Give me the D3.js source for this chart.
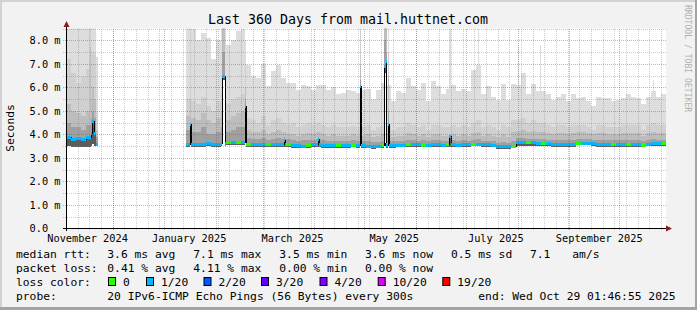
<!DOCTYPE html>
<html lang="en">
<head>
<meta charset="UTF-8">
<script src="https://cdn.jsdelivr.net/npm/d3@7"></script>
<style>
    body { margin: 0; background: #fff; }
    svg { display: block; font-family: "DejaVu Sans Mono", monospace; }
    text { white-space: pre; }
</style>
</head>
<body>
<div id="chart"></div>
<script>
// ---- data (3-day bins from the start of the 360 day window) ----
const spanDays = 360;
const binDays = 3;

// top of the smoke (slowest ping), in ms
const maxRtt = [
    8.6, 8.6, 8.6, 8.6, 8.6, 8.6, null, null, null, null,
    null, null, null, null, null, null, null, null, null, null,
    null, null, null, null, 8.6, 8.5, 8.0, 8.3, 8.1, 7.2,
    8.0, 8.5, 7.8, 8.0, 8.4, 8.5, 6.95, 6.5, 6.4, 7.0,
    6.05, 6.7, 6.95, 6.4, 6.2, 6.2, 5.9, 6.1, 6.05, 5.9,
    6.1, 6.1, 5.9, 6.0, 5.7, 5.75, 5.9, 5.85, 5.75, 5.9,
    5.95, 5.5, 5.9, 6.2, 6.1, 5.4, 5.85, 5.75, 6.4, 6.05,
    5.9, 6.2, 5.4, 6.25, 6.05, 5.7, 5.95, 6.1, 5.85, 5.95,
    5.85, 6.75, 6.95, 5.7, 6.05, 5.6, 5.45, 6.15, 5.45, 6.15,
    6.1, 6.6, 5.7, 6.15, 5.85, 5.85, 5.7, 5.45, 5.6, 5.7,
    5.4, 5.7, 5.55, 5.6, 5.4, 5.2, 5.6, 5.55, 5.55, 5.4,
    5.45, 5.55, 5.7, 5.6, 5.55, 5.3, 5.6, 5.85, 5.6, 5.7
];
// inner smoke levels, lighter to darker
const smokeQ2 = [
    7.2, 6.6, 6.2, 6.5, 6.8, 7.4, null, null, null, null,
    null, null, null, null, null, null, null, null, null, null,
    null, null, null, null, 5.5, 5.4, 5.3, 5.6, 5.2, 5.0,
    5.4, 5.8, 5.3, 5.5, 5.6, 5.7, 4.7, 4.6, 4.5, 4.8,
    4.4, 4.6, 4.7, 4.5, 4.4, 4.5, 4.3, 4.4, 4.5, 4.4,
    4.5, 4.4, 4.3, 4.4, 4.3, 4.3, 4.3, 4.35, 4.3, 4.3,
    4.4, 4.2, 4.3, 4.4, 4.4, 4.2, 4.3, 4.3, 4.5, 4.4,
    4.3, 4.4, 4.2, 4.4, 4.4, 4.3, 4.3, 4.4, 4.3, 4.4,
    4.3, 4.5, 4.6, 4.3, 4.4, 4.3, 4.2, 4.4, 4.3, 4.6,
    4.6, 4.7, 4.5, 4.6, 4.5, 4.5, 4.4, 4.3, 4.4, 4.4,
    4.3, 4.4, 4.4, 4.4, 4.3, 4.2, 4.4, 4.4, 4.3, 4.3,
    4.3, 4.4, 4.4, 4.4, 4.4, 4.2, 4.4, 4.5, 4.4, 4.4
];
const smokeQ3 = [
    5.3, 5.0, 4.9, 4.8, 5.0, 5.5, null, null, null, null,
    null, null, null, null, null, null, null, null, null, null,
    null, null, null, null, 4.8, 4.7, 4.6, 4.9, 4.6, 4.5,
    4.7, 5.0, 4.6, 4.8, 4.9, 5.0, 4.2, 4.1, 4.1, 4.2,
    4.0, 4.1, 4.2, 4.1, 4.0, 4.0, 3.95, 4.0, 4.05, 4.0,
    4.1, 4.0, 3.95, 4.0, 3.95, 3.95, 3.95, 4.0, 3.95, 3.95,
    4.0, 3.9, 3.95, 4.0, 4.0, 3.9, 3.95, 3.95, 4.05, 4.0,
    3.95, 4.0, 3.9, 4.0, 4.0, 3.95, 3.95, 4.0, 3.95, 4.0,
    3.95, 4.05, 4.1, 3.95, 4.0, 3.95, 3.9, 4.0, 3.9, 4.1,
    4.15, 4.2, 4.1, 4.15, 4.1, 4.1, 4.05, 4.0, 4.05, 4.05,
    4.0, 4.05, 4.1, 4.1, 4.05, 4.0, 4.05, 4.05, 4.0, 4.0,
    4.0, 4.05, 4.05, 4.05, 4.05, 3.95, 4.05, 4.1, 4.05, 4.05
];
const smokeQ4 = [
    4.5, 4.3, 4.3, 4.2, 4.4, 4.7, null, null, null, null,
    null, null, null, null, null, null, null, null, null, null,
    null, null, null, null, 4.2, 4.1, 4.1, 4.3, 4.0, 4.0,
    4.1, 4.3, 4.1, 4.2, 4.3, 4.3, 3.85, 3.8, 3.8, 3.85,
    3.75, 3.8, 3.85, 3.8, 3.8, 3.75, 3.72, 3.75, 3.78, 3.78,
    3.8, 3.75, 3.72, 3.72, 3.72, 3.72, 3.72, 3.75, 3.72, 3.7,
    3.7, 3.68, 3.68, 3.72, 3.72, 3.7, 3.72, 3.72, 3.78, 3.75,
    3.72, 3.75, 3.7, 3.75, 3.75, 3.72, 3.72, 3.75, 3.72, 3.75,
    3.72, 3.78, 3.8, 3.72, 3.72, 3.7, 3.65, 3.68, 3.65, 3.7,
    3.85, 3.85, 3.82, 3.82, 3.8, 3.8, 3.78, 3.75, 3.75, 3.75,
    3.75, 3.75, 3.8, 3.8, 3.8, 3.78, 3.75, 3.75, 3.75, 3.75,
    3.75, 3.75, 3.75, 3.75, 3.75, 3.72, 3.75, 3.8, 3.78, 3.78
];
const medianRtt = [
    3.9, 3.82, 3.85, 3.8, 3.88, 4.05, null, null, null, null,
    null, null, null, null, null, null, null, null, null, null,
    null, null, null, null, 3.6, 3.58, 3.6, 3.6, 3.62, 3.6,
    3.6, 3.62, 3.68, 3.66, 3.68, 3.66, 3.58, 3.58, 3.58, 3.58,
    3.58, 3.58, 3.58, 3.58, 3.58, 3.54, 3.54, 3.52, 3.54, 3.58,
    3.58, 3.55, 3.55, 3.55, 3.54, 3.55, 3.55, 3.56, 3.55, 3.55,
    3.52, 3.5, 3.52, 3.55, 3.55, 3.55, 3.56, 3.56, 3.58, 3.58,
    3.58, 3.56, 3.56, 3.58, 3.58, 3.56, 3.58, 3.58, 3.56, 3.58,
    3.58, 3.6, 3.6, 3.58, 3.58, 3.56, 3.5, 3.5, 3.5, 3.52,
    3.68, 3.66, 3.66, 3.66, 3.64, 3.62, 3.62, 3.58, 3.58, 3.58,
    3.58, 3.58, 3.64, 3.65, 3.64, 3.62, 3.58, 3.58, 3.58, 3.58,
    3.58, 3.58, 3.58, 3.58, 3.58, 3.56, 3.6, 3.62, 3.62, 3.62
];
const minRtt = [
    3.5, 3.45, 3.45, 3.45, 3.45, 3.5, null, null, null, null,
    null, null, null, null, null, null, null, null, null, null,
    null, null, null, null, 3.48, 3.47, 3.48, 3.48, 3.5, 3.48,
    3.48, 3.5, 3.55, 3.54, 3.55, 3.54, 3.47, 3.47, 3.47, 3.47,
    3.47, 3.47, 3.47, 3.47, 3.47, 3.43, 3.43, 3.41, 3.43, 3.47,
    3.47, 3.44, 3.44, 3.44, 3.43, 3.44, 3.44, 3.45, 3.44, 3.44,
    3.41, 3.39, 3.41, 3.44, 3.44, 3.44, 3.45, 3.45, 3.47, 3.47,
    3.47, 3.45, 3.45, 3.47, 3.47, 3.45, 3.47, 3.47, 3.45, 3.47,
    3.47, 3.49, 3.49, 3.47, 3.47, 3.45, 3.39, 3.39, 3.39, 3.41,
    3.52, 3.5, 3.5, 3.5, 3.5, 3.5, 3.5, 3.47, 3.47, 3.47,
    3.47, 3.47, 3.53, 3.54, 3.53, 3.51, 3.47, 3.47, 3.47, 3.47,
    3.47, 3.47, 3.47, 3.47, 3.47, 3.45, 3.49, 3.51, 3.51, 3.51
];
// packet loss, in pings out of 20
const lossLevel = [
    1, 1, 1, 1, 1, 1, null, null, null, null,
    null, null, null, null, null, null, null, null, null, null,
    null, null, null, null, 1, 1, 1, 1, 1, 1,
    1, 1, 0, 1, 0, 1, 0, 1, 1, 1,
    0, 1, 1, 1, 0, 1, 1, 1, 0, 1,
    1, 1, 1, 1, 0, 1, 1, 0, 1, 1,
    1, 1, 1, 0, 1, 1, 1, 1, 0, 1,
    1, 0, 1, 1, 1, 1, 0, 1, 1, 1,
    1, 0, 1, 1, 1, 1, 1, 1, 1, 0,
    1, 1, 0, 1, 1, 0, 1, 1, 1, 1,
    1, 1, 0, 1, 1, 1, 1, 1, 1, 0,
    1, 1, 0, 1, 1, 0, 1, 1, 1, 0
];
// short spikes: [day, days long, max, q2, q3, q4, median, min, loss]; null = same as its bin
const spikes = [
    [14.4, 0.6, null, 8.6, 7.7, null, null, null, null],
    [15.8, 1.2, null, 7.5, 6.0, 5.0, 4.55, 3.6, 1],
    [18.0, 0.9, 7.3, 5.0, 4.2, 3.9, 3.6, 3.5, 1],
    [74.4, 0.9, null, 8.6, 5.5, 4.5, 4.45, 3.6, 1],
    [93.6, 1.8, 8.6, 8.6, 8.6, 7.5, 6.5, 6.3, 1],
    [107.4, 1.2, 8.0, 7.0, 6.0, 5.5, 5.22, 5.0, 1],
    [130.8, 0.6, null, null, null, 3.9, 3.75, null, 1],
    [151.2, 0.6, null, null, null, 3.9, 3.8, null, 1],
    [176.4, 1.8, 8.6, 8.6, 7.0, 6.3, 6.04, 5.9, 1],
    [190.5, 1.2, 8.6, 8.6, 8.6, 8.0, 6.9, 6.6, 1],
    [191.7, 1.2, 8.6, 8.6, 8.6, 7.5, 7.1, 6.9, 1],
    [192.9, 0.9, 8.6, 7.5, 6.5, 5.0, 4.45, 4.3, 1],
    [229.8, 0.9, 8.6, null, null, 3.95, 3.92, null, 1],
    [247.2, 0.6, 8.5, null, null, null, null, null, null],
    [271.2, 0.6, 7.7, null, null, null, null, null, null],
    [284.4, 0.6, 7.8, null, null, null, null, null, null],
    [352.2, 0.6, 6.3, null, null, null, null, null, null]
];

const yTicks = [0, 1, 2, 3, 4, 5, 6, 7, 8];
const yTickLabels = ["0.0  ", "1.0 m", "2.0 m", "3.0 m", "4.0 m", "5.0 m", "6.0 m", "7.0 m", "8.0 m"];
const xTickLabels = ["November 2024", "January 2025", "March 2025", "May 2025", "July 2025", "September 2025"];
const xTickLabelDates = ["2024-11-16", "2025-01-16", "2025-03-19", "2025-05-19", "2025-07-19", "2025-09-19"];

const lossLabels = ["0", "1/20", "2/20", "3/20", "4/20", "10/20", "19/20"];
const lossColors = ["#26ff00", "#00b8ff", "#0059ff", "#5e00ff", "#7e00ff", "#dd00ff", "#ff0000"];
const rttStats = ["3.6 ms avg", "7.1 ms max", "3.5 ms min", "3.6 ms now", "0.5 ms sd", "7.1", "am/s"];
const lossStats = ["0.41 % avg", "4.11 % max", "0.00 % min", "0.00 % now"];

// ---- setup ----
var W = 697, H = 310;
var msDay = 86400000;
var endTime = Date.UTC(2025, 9, 29, 1, 46, 55);
var startTime = endTime - spanDays * msDay;

var svg = d3.select("#chart").append("svg")
    .attr("width", W)
    .attr("height", H);

var x = d3.scaleUtc()
    .domain([new Date(startTime), new Date(endTime)])
    .range([66, 666]);
var y = d3.scaleLinear()
    .domain([0, 8.5])
    .range([228.5, 28.5]);
var xd = function(day) { return x(new Date(startTime + day * msDay)); };

// frame
svg.append("rect").attr("width", W).attr("height", H).attr("fill", "#f2f2f2");
svg.append("rect").attr("x", 0).attr("y", 0).attr("width", W).attr("height", 2).attr("fill", "#d2d2d2");
svg.append("rect").attr("x", 0).attr("y", 0).attr("width", 2).attr("height", H).attr("fill", "#d2d2d2");
svg.append("rect").attr("x", 0).attr("y", H - 3).attr("width", W).attr("height", 3).attr("fill", "#a4a4a4");
svg.append("rect").attr("x", W - 2).attr("y", 0).attr("width", 2).attr("height", H).attr("fill", "#a4a4a4");

svg.append("rect").attr("x", 66).attr("y", 28.5).attr("width", 600).attr("height", 200).attr("fill", "#fff");

svg.append("clipPath").attr("id", "plotclip")
    .append("rect").attr("x", 66).attr("y", 28.5).attr("width", 600).attr("height", 200);

// ---- build samples from the bins + spikes ----
var fields = ["max", "q2", "q3", "q4", "med", "min", "loss"];
var binArrays = [maxRtt, smokeQ2, smokeQ3, smokeQ4, medianRtt, minRtt, lossLevel];
function binAt(k) {
    var o = {};
    fields.forEach(function(f, j) { o[f] = binArrays[j][k]; });
    return o;
}
var samples = d3.range(maxRtt.length).map(function(k) {
    return Object.assign({ day: k * binDays }, binAt(k));
});
spikes.forEach(function(s) {
    var k = Math.floor(s[0] / binDays);
    var base = binAt(k);
    var o = { day: s[0] };
    fields.forEach(function(f, j) { o[f] = s[j + 2] != null ? s[j + 2] : base[f]; });
    samples.push(o);
    var endDay = s[0] + s[1];
    var taken = spikes.some(function(t) { return Math.abs(t[0] - endDay) < 0.01; });
    if (!taken && endDay < (k + 1) * binDays) samples.push(Object.assign({ day: endDay }, base));
});
samples.sort(function(a, b) { return a.day - b.day; });
samples.push(Object.assign({}, samples[samples.length - 1], { day: spanDays }));

var segs = [];
for (var i = 0; i < samples.length - 1; i++) {
    var s = samples[i];
    var x0 = Math.round(xd(s.day));
    var x1 = Math.round(xd(samples[i + 1].day));
    if (samples[i + 1].day - s.day > 0.01) x1 = Math.max(x1, x0 + 1);
    segs.push(Object.assign({}, s, { x0: x0, x1: x1 }));
}
var dataSegs = segs.filter(function(d) { return d.max != null && d.x1 > d.x0; });

var plot = svg.append("g").attr("clip-path", "url(#plotclip)");

// smoke
var bands = [["max", "#dddddd"], ["q2", "#d0d0d0"], ["q3", "#bdbdbd"], ["q4", "#a0a0a0"], ["med", "#5c5c5c"]];
bands.forEach(function(b) {
    plot.append("g")
        .attr("shape-rendering", "crispEdges")
        .selectAll("rect")
        .data(dataSegs)
        .join("rect")
            .attr("x", function(d) { return d.x0; })
            .attr("width", function(d) { return d.x1 - d.x0; })
            .attr("y", function(d) { return y(d[b[0]]); })
            .attr("height", function(d) { return Math.max(0, y(d.min) - y(d[b[0]])); })
            .attr("fill", b[1]);
});

// grid (on top of the smoke, like rrdtool)
var minorCol = "rgba(120,120,120,0.38)", majorCol = "rgba(235,40,40,0.45)";
var grid = svg.append("g").attr("shape-rendering", "crispEdges").attr("stroke-dasharray", "1,1");
var weeks = d3.utcSunday.range(new Date(startTime), new Date(endTime));
var months = d3.utcMonth.range(new Date(startTime), new Date(endTime));
grid.selectAll(".vminor").data(weeks).join("line")
    .attr("x1", function(d) { return Math.round(x(d)) + 0.5; })
    .attr("x2", function(d) { return Math.round(x(d)) + 0.5; })
    .attr("y1", 28.5).attr("y2", 231)
    .attr("stroke", minorCol);
var halfSteps = d3.range(0.5, 8.51, 1);
grid.selectAll(".hminor").data(halfSteps).join("line")
    .attr("x1", 63).attr("x2", 666)
    .attr("y1", function(d) { return Math.round(y(d)) + 0.5; })
    .attr("y2", function(d) { return Math.round(y(d)) + 0.5; })
    .attr("stroke", minorCol);
grid.selectAll(".vmajor").data(months).join("line")
    .attr("x1", function(d) { return Math.round(x(d)) + 0.5; })
    .attr("x2", function(d) { return Math.round(x(d)) + 0.5; })
    .attr("y1", 28.5).attr("y2", 231)
    .attr("stroke", majorCol);
grid.selectAll(".hmajor").data(yTicks.slice(1)).join("line")
    .attr("x1", 63).attr("x2", 666)
    .attr("y1", function(d) { return Math.round(y(d)) + 0.5; })
    .attr("y2", function(d) { return Math.round(y(d)) + 0.5; })
    .attr("stroke", majorCol);

// median: thin black step line, then loss-coloured dashes
var medPts = [];
segs.forEach(function(d) {
    medPts.push({ x: d.x0, v: d.med });
    medPts.push({ x: d.x1, v: d.med });
});
var medLine = d3.line()
    .defined(function(d) { return d.v != null; })
    .x(function(d) { return d.x; })
    .y(function(d) { return Math.round(y(d.v)) + 0.5; });
plot.append("path")
    .attr("d", medLine(medPts))
    .attr("fill", "none")
    .attr("stroke", "#000")
    .attr("stroke-width", 1)
    .attr("shape-rendering", "crispEdges");

plot.append("g")
    .attr("shape-rendering", "crispEdges")
    .selectAll("line")
    .data(dataSegs.filter(function(d) { return d.med != null; }))
    .join("line")
        .attr("x1", function(d) { return d.x0; })
        .attr("x2", function(d) { return d.x1; })
        .attr("y1", function(d) { return Math.round(y(d.med)) + 0.5; })
        .attr("y2", function(d) { return Math.round(y(d.med)) + 0.5; })
        .attr("stroke", function(d) { return lossColors[d.loss]; })
        .attr("stroke-width", 3);

// axes
var axes = svg.append("g").attr("shape-rendering", "crispEdges");
axes.append("line").attr("x1", 63).attr("x2", 668).attr("y1", 228.5).attr("y2", 228.5).attr("stroke", "#000");
axes.append("line").attr("x1", 66.5).attr("x2", 66.5).attr("y1", 231).attr("y2", 26).attr("stroke", "#000");
svg.append("path").attr("d", "M666,225.5L672,228.5L666,231.5Z").attr("fill", "#8e1c1c");
svg.append("path").attr("d", "M63.5,27L66.5,21L69.5,27Z").attr("fill", "#8e1c1c");

// y tick labels
svg.append("g").selectAll("text")
    .data(yTicks)
    .join("text")
        .attr("x", 60.5)
        .attr("y", function(d) { return y(d); })
        .attr("dy", "0.36em")
        .attr("text-anchor", "end")
        .style("font-size", "10.3px")
        .attr("fill", "#000")
        .text(function(d, i) { return yTickLabels[i]; });

// x tick labels
svg.append("g").selectAll("text")
    .data(xTickLabelDates)
    .join("text")
        .attr("x", function(d) { return x(new Date(d + "T00:00:00Z")); })
        .attr("y", 241.5)
        .attr("text-anchor", "middle")
        .style("font-size", "10.3px")
        .attr("fill", "#000")
        .text(function(d, i) { return xTickLabels[i]; });

// title and side texts
svg.append("text")
    .attr("x", 348).attr("y", 24)
    .attr("text-anchor", "middle")
    .style("font-size", "13.3px")
    .attr("fill", "#000")
    .text("Last 360 Days from mail.huttnet.com");

svg.append("text")
    .attr("transform", "translate(10,128) rotate(-90)")
    .attr("text-anchor", "middle")
    .attr("dy", "0.36em")
    .style("font-size", "11.3px")
    .attr("fill", "#000")
    .text("Seconds");

svg.append("text")
    .attr("transform", "translate(688,5) rotate(90)")
    .attr("dy", "0.36em")
    .style("font-size", "8.1px")
    .attr("fill", "#b0b0b0")
    .text("RRDTOOL / TOBI OETIKER");

// legend
var legend = svg.append("g").style("font-size", "11.3px").attr("fill", "#000");
var statX = [107.3, 193.3, 279.3, 365, 451, 530, 572.3];
legend.append("text").attr("x", 16).attr("y", 258).text("median rtt:");
rttStats.forEach(function(t, i) {
    legend.append("text").attr("x", statX[i]).attr("y", 258).text(t);
});
legend.append("text").attr("x", 16).attr("y", 272).text("packet loss:");
lossStats.forEach(function(t, i) {
    legend.append("text").attr("x", statX[i]).attr("y", 272).text(t);
});
legend.append("text").attr("x", 16).attr("y", 286).text("loss color:");
var boxX = [108, 146, 203.5, 261, 319.5, 377.7, 442.3];
lossLabels.forEach(function(t, i) {
    legend.append("rect")
        .attr("x", boxX[i] + 0.5).attr("y", 277.5)
        .attr("width", 7).attr("height", 8)
        .attr("fill", lossColors[i])
        .attr("stroke", "#000");
    legend.append("text").attr("x", boxX[i] + 15).attr("y", 286).text(t);
});
legend.append("text").attr("x", 16).attr("y", 300).text("probe:");
legend.append("text").attr("x", 107.3).attr("y", 300).text("20 IPv6-ICMP Echo Pings (56 Bytes) every 300s");
legend.append("text").attr("x", 478.3).attr("y", 300).text("end: Wed Oct 29 01:46:55 2025");
</script>
</body>
</html>
